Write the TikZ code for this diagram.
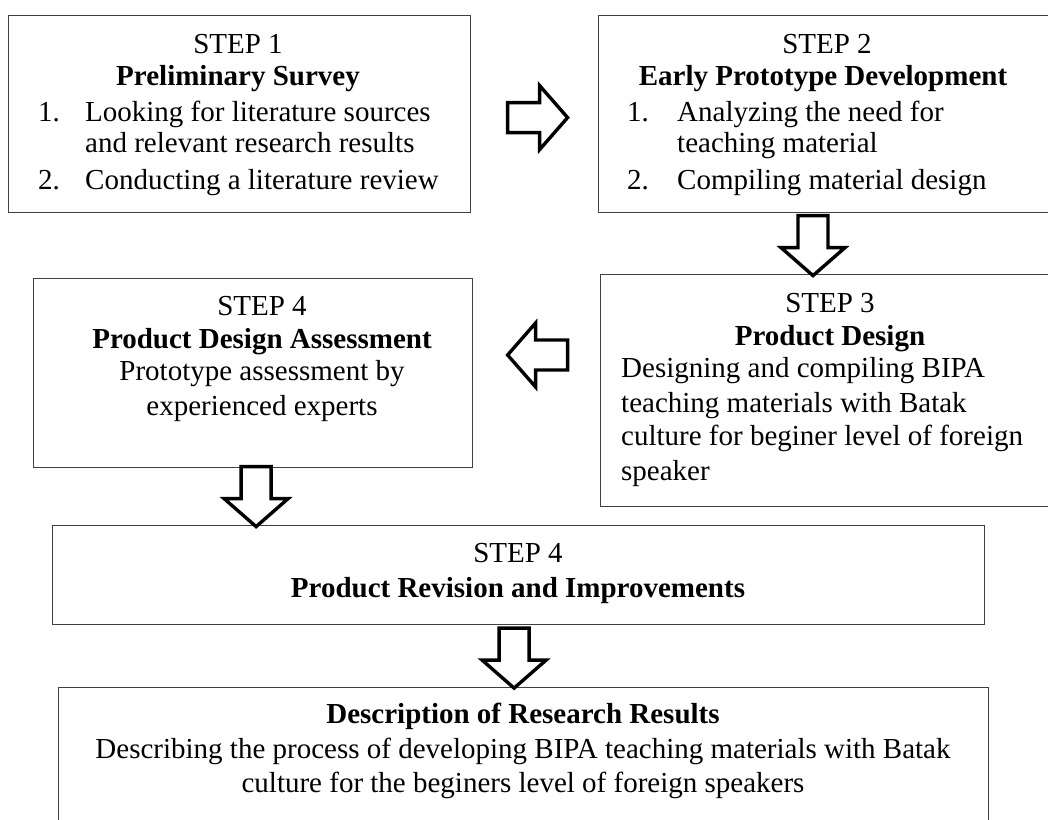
\documentclass[tikz,border=0pt]{standalone}
\usepackage{fontspec}
\setmainfont{Liberation Serif}
\usetikzlibrary{calc}
\begin{document}
\begin{tikzpicture}[x=1pt,y=-1pt,
  box/.style={draw=black!75, line width=1.2pt, inner sep=0, anchor=north west},
  txt/.style={font=\fontsize{29}{34}\selectfont, inner sep=0, anchor=base},
  ltxt/.style={txt, anchor=base west},
  btxt/.style={txt, font=\fontsize{29}{34}\selectfont\bfseries},
  blkarrow/.pic={\draw[line width=3.4pt, fill=white, line join=miter]
    (-30,-15) -- (2,-15) -- (2,-32) -- (30,0) -- (2,32) -- (2,15) -- (-30,15) -- cycle;}]
\useasboundingbox (0,0) rectangle (1048,819);
\clip (0,0) rectangle (1048,819);
% boxes
\node[box, minimum width=462, minimum height=197] (s1) at (8,15) {};
\node[box, minimum width=470, minimum height=197] (s2) at (598,15) {};
\node[box, minimum width=470, minimum height=232] (s3) at (600,274) {};
\node[box, minimum width=439, minimum height=189] (s4) at (33,278) {};
\node[box, minimum width=932, minimum height=99] (s5) at (52,525) {};
\node[box, minimum width=930, minimum height=150] (s6) at (58,687) {};
% step 1
\node[txt] (s1a) at (238,53) {STEP 1};
\node[btxt] (s1b) at (238,85) {Preliminary Survey};
\node[ltxt] (s1n1) at (38,121) {1.};
\node[ltxt] (s1c) at (85,121) {Looking for literature sources};
\node[ltxt] (s1d) at (85,152) {and relevant research results};
\node[ltxt] (s1n2) at (38,189) {2.};
\node[ltxt] (s1e) at (85,189) {Conducting a literature review};
% step 2
\node[txt] (s2a) at (827,53) {STEP 2};
\node[btxt] (s2b) at (823,85) {Early Prototype Development};
\node[ltxt] (s2n1) at (627,121) {1.};
\node[ltxt] (s2c) at (677,121) {Analyzing the need for};
\node[ltxt] (s2d) at (677,152) {teaching material};
\node[ltxt] (s2n2) at (627,189) {2.};
\node[ltxt] (s2e) at (677,189) {Compiling material design};
% step 3
\node[txt] (s3a) at (830,312) {STEP 3};
\node[btxt] (s3b) at (830,345) {Product Design};
\node[ltxt] (s3c) at (621,377) {Designing and compiling BIPA};
\node[ltxt] (s3d) at (621,412) {teaching materials with Batak};
\node[ltxt] (s3e) at (621,445) {culture for beginer level of foreign};
\node[ltxt] (s3f) at (621,480) {speaker};
% step 4
\node[txt] (s4a) at (262,315) {STEP 4};
\node[btxt] (s4b) at (262,348) {Product Design Assessment};
\node[txt] (s4c) at (262,380) {Prototype assessment by};
\node[txt] (s4d) at (262,415) {experienced experts};
% revision
\node[txt] (s5a) at (518,562) {STEP 4};
\node[btxt] (s5b) at (518,597) {Product Revision and Improvements};
% results
\node[btxt] (s6a) at (523,723) {Description of Research Results};
\node[txt] (s6b) at (523,758) {Describing the process of developing BIPA teaching materials with Batak};
\node[txt] (s6c) at (523,792) {culture for the beginers level of foreign speakers};
% arrows
\pic at ($(s1.east)!0.5!(s2.west)+(3,3.5)$) {blkarrow};
\pic[rotate=-90] at ($(s2.south west)!0.5!(s3.north west)+(214,2)$) {blkarrow};
\pic[rotate=180] at ($(s4.north east)!0.5!(s3.north west)+(1,79)$) {blkarrow};
\pic[rotate=-90] at ($(s4.south)!0.5!(s4.south|-s5.north)+(3,0)$) {blkarrow};
\pic[rotate=-90] at ($(s5.south)!0.5!(s6.north)+(-7,2)$) {blkarrow};
\end{tikzpicture}
\end{document}
